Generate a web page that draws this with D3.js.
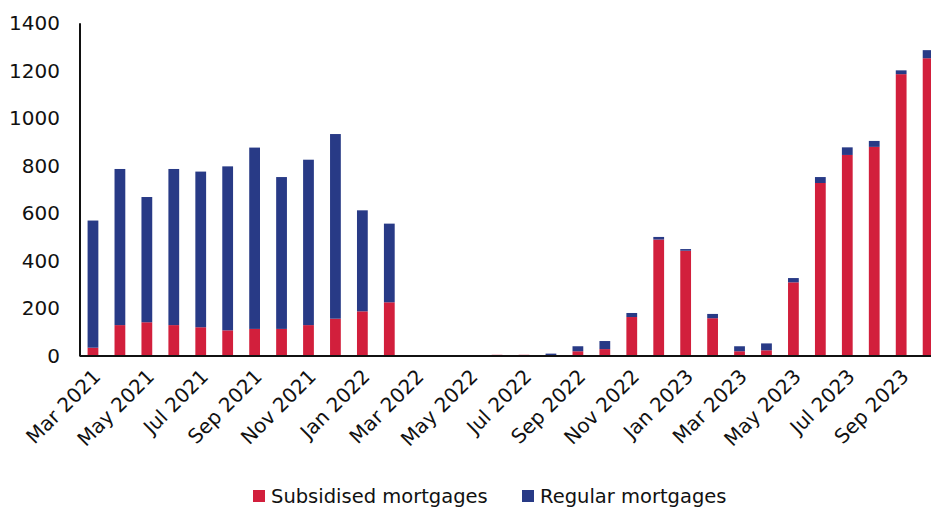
<!DOCTYPE html>
<html>
<head>
<meta charset="utf-8">
<script src="https://cdn.jsdelivr.net/npm/d3@7"></script>
<style>
  html, body { margin: 0; padding: 0; background: #fff; }
  svg { display: block; }
  text { font-family: "DejaVu Sans", sans-serif; fill: #111; }
</style>
</head>
<body>
<svg id="chart" width="931" height="508"></svg>
<script>
// Monthly mortgage approvals, Mar 2021 – Oct 2023
const months = [
  "Mar 2021","Apr 2021","May 2021","Jun 2021","Jul 2021","Aug 2021","Sep 2021","Oct 2021",
  "Nov 2021","Dec 2021","Jan 2022","Feb 2022","Mar 2022","Apr 2022","May 2022","Jun 2022",
  "Jul 2022","Aug 2022","Sep 2022","Oct 2022","Nov 2022","Dec 2022","Jan 2023","Feb 2023",
  "Mar 2023","Apr 2023","May 2023","Jun 2023","Jul 2023","Aug 2023","Sep 2023","Oct 2023"
];
const subsidised = [
  35, 130, 142, 130, 121, 108, 114, 114,
  130, 157, 188, 226, 0, 0, 0, 5,
  5, 2, 20, 29, 164, 490, 443, 159,
  20, 24, 310, 728, 846, 880, 1186, 1253
];
const regular = [
  535, 657, 527, 657, 655, 690, 763, 639,
  696, 777, 425, 331, 0, 0, 0, 0,
  0, 8, 21, 34, 17, 11, 7, 18,
  21, 29, 18, 25, 32, 25, 16, 34
];
const yTicks = [0, 200, 400, 600, 800, 1000, 1200, 1400];
const xTickLabels = months.filter((m, i) => i % 2 === 0 && i < 31);
const seriesNames = ["Subsidised mortgages", "Regular mortgages"];
const seriesColors = ["#d21f3c", "#283a86"];

const svg = d3.select("#chart");
const margin = { left: 79.5, top: 23.3, bottom: 356 };

const x = d3.scaleBand()
  .domain(months)
  .range([margin.left, margin.left + 32 * 26.94])
  .paddingInner(0.6)
  .paddingOuter(0.3);

const y = d3.scaleLinear().domain([0, 1400]).range([margin.bottom, margin.top]);

const rows = months.map((m, i) => ({ month: m, subsidised: subsidised[i], regular: regular[i] }));
const stack = d3.stack().keys(["subsidised", "regular"])(rows);

// stacked bars
svg.append("g")
  .selectAll("g")
  .data(stack)
  .join("g")
  .attr("fill", (d, i) => seriesColors[i])
  .selectAll("rect")
  .data(d => d)
  .join("rect")
  .attr("x", d => x(d.data.month))
  .attr("width", x.bandwidth())
  .attr("y", d => y(d[1]))
  .attr("height", d => Math.max(0, y(d[0]) - y(d[1])));

// y axis
const yAxis = svg.append("g")
  .attr("transform", `translate(${margin.left + 0.5},0)`)
  .call(d3.axisLeft(y).tickValues(yTicks).tickSize(0).tickPadding(20).tickFormat(d3.format("d")));
yAxis.select(".domain").attr("stroke", "#111").attr("stroke-width", 2).attr("d", `M0,${margin.top}V${margin.bottom}`);
yAxis.selectAll("text").style("font-size", "20px").attr("font-family", "DejaVu Sans").attr("fill", "#111");

// x axis
const xAxis = svg.append("g")
  .attr("transform", `translate(0,${margin.bottom})`)
  .call(d3.axisBottom(x).tickValues(xTickLabels).tickSize(0).tickPadding(0));
xAxis.select(".domain").attr("stroke", "#111").attr("stroke-width", 2)
  .attr("d", `M${margin.left},0H931`);
xAxis.selectAll("text")
  .style("font-size", "20px")
  .attr("font-family", "DejaVu Sans")
  .attr("fill", "#111")
  .attr("text-anchor", "end")
  .attr("dy", null)
  .attr("y", 0)
  .attr("transform", "translate(-2,11) rotate(-45)")
  .attr("dominant-baseline", "hanging");

// legend
const legend = svg.append("g").attr("transform", "translate(253,490)");
const items = [
  { name: seriesNames[0], color: seriesColors[0], x: 0 },
  { name: seriesNames[1], color: seriesColors[1], x: 269 }
];
const li = legend.selectAll("g").data(items).join("g").attr("transform", d => `translate(${d.x},0)`);
li.append("rect").attr("width", 12).attr("height", 12).attr("fill", d => d.color);
li.append("text").attr("x", 18).attr("y", 13).style("font-size", "19.5px").text(d => d.name);
</script>
</body>
</html>
